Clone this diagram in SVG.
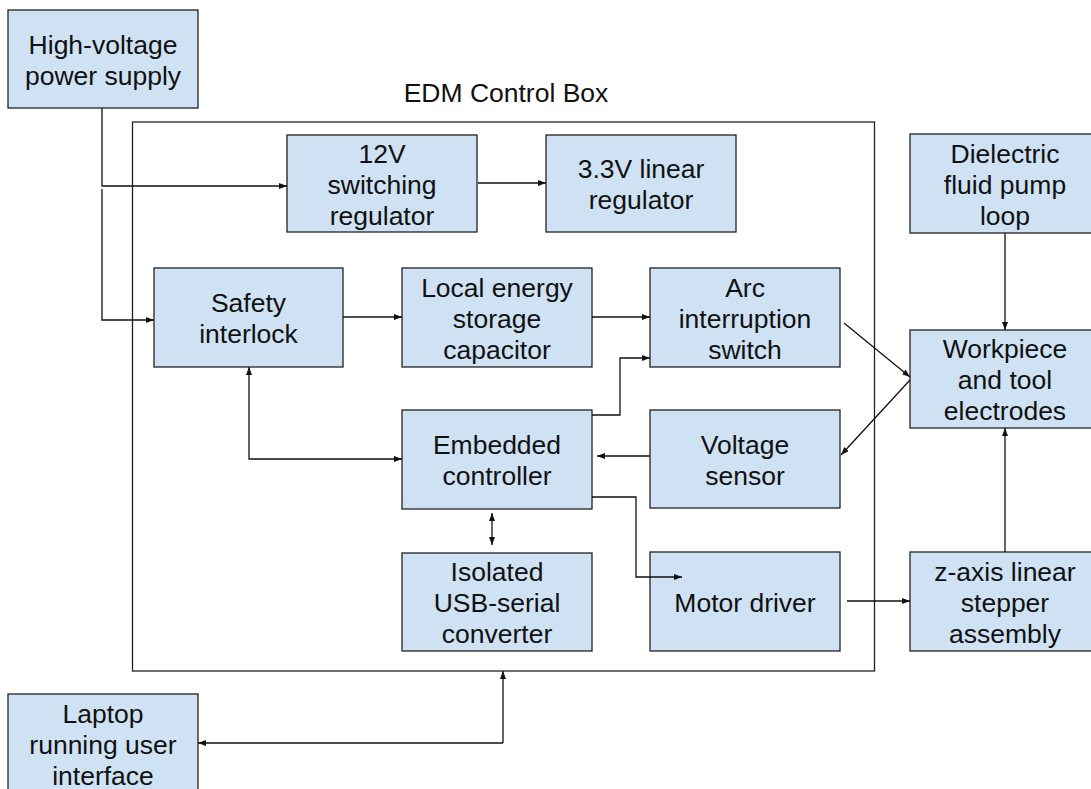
<svg xmlns="http://www.w3.org/2000/svg" width="1091" height="789" viewBox="0 0 1091 789">
<style>
.box{fill:#cfe2f3;stroke:#222;stroke-width:1.3}
.frame{fill:none;stroke:#222;stroke-width:1.3}
.t{font-family:"Liberation Sans",Arial,sans-serif;font-size:26.5px;fill:#111;text-anchor:middle}
.c{fill:none;stroke:#111;stroke-width:1.3}
</style>
<defs>
<marker id="ah" markerUnits="userSpaceOnUse" markerWidth="9" markerHeight="7" refX="8" refY="3" orient="auto-start-reverse">
<path d="M0,0 L8,3 L0,6 z" fill="#111"/>
</marker>
</defs>
<rect width="1091" height="789" fill="#fff"/>
<g id="edm-box">
<rect class="frame" x="132.5" y="122" width="742" height="549"/>
<text class="t" x="506" y="102">EDM Control Box</text>
</g>
<g id="hv-supply">
<rect class="box" x="8" y="10" width="190" height="98"/>
<text class="t" x="103" y="53.5">High-voltage</text>
<text class="t" x="103" y="84.5">power supply</text>
</g>
<g id="reg-12v">
<rect class="box" x="287" y="135" width="190" height="97"/>
<text class="t" x="382" y="162.5">12V</text>
<text class="t" x="382" y="193.5">switching</text>
<text class="t" x="382" y="224.5">regulator</text>
</g>
<g id="reg-3v3">
<rect class="box" x="546" y="135" width="190" height="97"/>
<text class="t" x="641" y="178">3.3V linear</text>
<text class="t" x="641" y="209">regulator</text>
</g>
<g id="safety">
<rect class="box" x="154" y="268" width="189" height="99"/>
<text class="t" x="248.5" y="312">Safety</text>
<text class="t" x="248.5" y="343">interlock</text>
</g>
<g id="capacitor">
<rect class="box" x="402" y="268" width="190" height="99"/>
<text class="t" x="497" y="296.5">Local energy</text>
<text class="t" x="497" y="327.5">storage</text>
<text class="t" x="497" y="358.5">capacitor</text>
</g>
<g id="arc-switch">
<rect class="box" x="650" y="268" width="190" height="99"/>
<text class="t" x="745" y="296.5">Arc</text>
<text class="t" x="745" y="327.5">interruption</text>
<text class="t" x="745" y="358.5">switch</text>
</g>
<g id="controller">
<rect class="box" x="402" y="410" width="190" height="99"/>
<text class="t" x="497" y="454">Embedded</text>
<text class="t" x="497" y="485">controller</text>
</g>
<g id="voltage-sensor">
<rect class="box" x="650" y="410" width="190" height="98"/>
<text class="t" x="745" y="453.5">Voltage</text>
<text class="t" x="745" y="484.5">sensor</text>
</g>
<g id="usb-serial">
<rect class="box" x="402" y="553" width="190" height="98"/>
<text class="t" x="497" y="581">Isolated</text>
<text class="t" x="497" y="612">USB-serial</text>
<text class="t" x="497" y="643">converter</text>
</g>
<g id="motor-driver">
<rect class="box" x="650" y="552" width="190" height="99"/>
<text class="t" x="745" y="611.5">Motor driver</text>
</g>
<g id="dielectric">
<rect class="box" x="910" y="134" width="190" height="99"/>
<text class="t" x="1005" y="162.5">Dielectric</text>
<text class="t" x="1005" y="193.5">fluid pump</text>
<text class="t" x="1005" y="224.5">loop</text>
</g>
<g id="workpiece">
<rect class="box" x="910" y="330" width="190" height="98"/>
<text class="t" x="1005" y="358">Workpiece</text>
<text class="t" x="1005" y="389">and tool</text>
<text class="t" x="1005" y="420">electrodes</text>
</g>
<g id="z-axis">
<rect class="box" x="910" y="552" width="190" height="99"/>
<text class="t" x="1005" y="580.5">z-axis linear</text>
<text class="t" x="1005" y="611.5">stepper</text>
<text class="t" x="1005" y="642.5">assembly</text>
</g>
<g id="laptop">
<rect class="box" x="8" y="694" width="190" height="99"/>
<text class="t" x="103" y="722.5">Laptop</text>
<text class="t" x="103" y="753.5">running user</text>
<text class="t" x="103" y="784.5">interface</text>
</g>
<g id="connectors">
<path class="c" d="M102,108 V186 H287" marker-end="url(#ah)"/>
<path class="c" d="M102,189 V320 H154" marker-end="url(#ah)"/>
<path class="c" d="M478,183 H546" marker-end="url(#ah)"/>
<path class="c" d="M343,317 H402" marker-end="url(#ah)"/>
<path class="c" d="M592,317 H650" marker-end="url(#ah)"/>
<path class="c" d="M592,415 H620 V358 H650" marker-end="url(#ah)"/>
<path class="c" d="M650,456 H597" marker-end="url(#ah)"/>
<path class="c" d="M249,367 V459 H402" marker-start="url(#ah)" marker-end="url(#ah)"/>
<path class="c" d="M492,513 V545" marker-start="url(#ah)" marker-end="url(#ah)"/>
<path class="c" d="M592,497 H636 V577 H682" marker-end="url(#ah)"/>
<path class="c" d="M844,323 L910,377" marker-end="url(#ah)"/>
<path class="c" d="M910,380 L841,455" marker-end="url(#ah)"/>
<path class="c" d="M1005,233 V330" marker-end="url(#ah)"/>
<path class="c" d="M1005,552 V428" marker-end="url(#ah)"/>
<path class="c" d="M847,601 H910" marker-end="url(#ah)"/>
<path class="c" d="M503,743 V671" marker-end="url(#ah)"/>
<path class="c" d="M503,743 H198" marker-end="url(#ah)"/>
</g>
</svg>
